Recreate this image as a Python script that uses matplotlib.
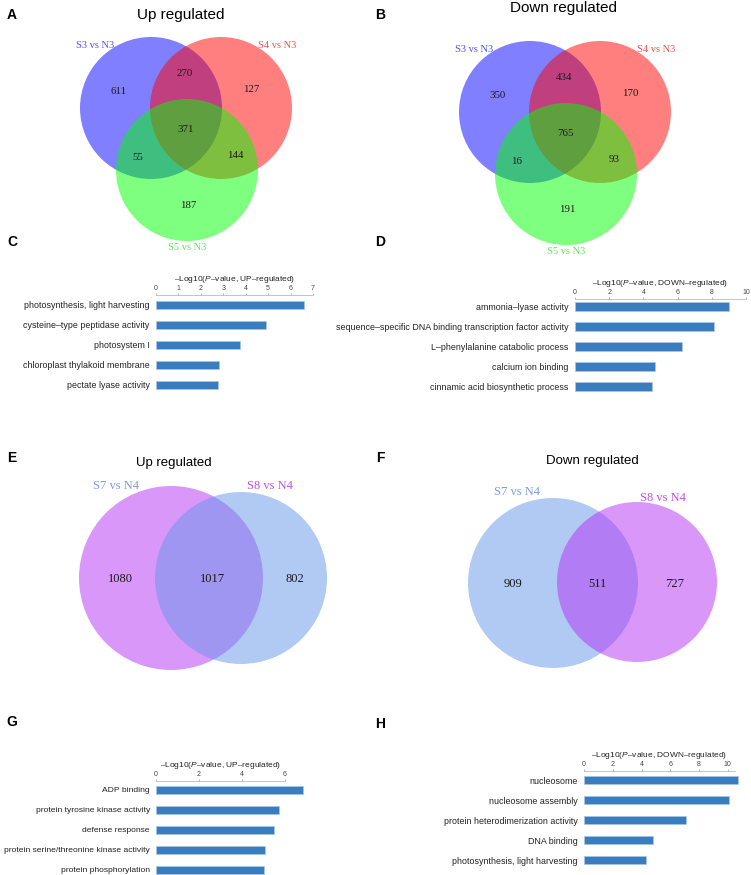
import numpy             as np
import matplotlib
matplotlib.use('Agg')
import matplotlib.pyplot as plt
from matplotlib.patches import Circle

plt.rcParams['font.family']      = ['Liberation Sans', 'DejaVu Sans']
plt.rcParams['mathtext.fontset'] = 'custom'
plt.rcParams['mathtext.it']      = 'Liberation Sans:italic'
plt.rcParams['mathtext.rm']      = 'Liberation Sans'

# ---------------------------------------------------------------- data
# three-set Venns (A, B): regions order
# [only1, 1&2, only2, 1&2&3, 1&3, 2&3, only3]
venn3_sets   = ['S3 vs N3', 'S4 vs N3', 'S5 vs N3']
venn_a_count = [611, 270, 127, 371, 55, 144, 187]
venn_b_count = [350, 434, 170, 765, 16, 93, 191]

# two-set Venns (E, F): [only left, both, only right]
venn_e_sets  = ['S7 vs N4', 'S8 vs N4']
venn_e_count = [1080, 1017, 802]
venn_f_sets  = ['S7 vs N4', 'S8 vs N4']
venn_f_count = [909, 511, 727]

# GO enrichment bars
c_terms  = ['photosynthesis, light harvesting',
            'cysteine\u2013type peptidase activity',
            'photosystem I',
            'chloroplast thylakoid membrane',
            'pectate lyase activity']
c_values = [6.6, 4.9, 3.73, 2.8, 2.75]

d_terms  = ['ammonia\u2013lyase activity',
            'sequence\u2013specific DNA binding transcription factor activity',
            'L\u2013phenylalanine catabolic process',
            'calcium ion binding',
            'cinnamic acid biosynthetic process']
d_values = [9.02, 8.14, 6.23, 4.65, 4.51]

g_terms  = ['ADP binding',
            'protein tyrosine kinase activity',
            'defense response',
            'protein serine/threonine kinase activity',
            'protein phosphorylation']
g_values = [6.86, 5.71, 5.49, 5.05, 5.02]

h_terms  = ['nucleosome',
            'nucleosome assembly',
            'protein heterodimerization activity',
            'DNA binding',
            'photosynthesis, light harvesting']
h_values = [10.74, 10.05, 7.08, 4.8, 4.34]

up_label   = '\u2013Log10($\\it{P}$\u2013value, UP\u2013regulated)'
down_label = '\u2013Log10($\\it{P}$\u2013value, DOWN\u2013regulated)'

# ---------------------------------------------------------------- style
W, H = 751, 875
blue, red, green = '#0000ff', '#ff0000', '#00ff00'
magenta, lblue   = '#b432f5', '#6496eb'
bar_color        = '#3a7dbf'
serif            = ['Liberation Serif', 'DejaVu Serif']

fig = plt.figure(figsize=(W / 100, H / 100), dpi=100)
canvas = fig.add_axes([0, 0, 1, 1])
canvas.set_xlim(0, W)
canvas.set_ylim(H, 0)
canvas.axis('off')


def px_axes(x0, y0, x1, y1):
    return fig.add_axes([x0 / W, 1 - y1 / H, (x1 - x0) / W, (y1 - y0) / H])


def venn3(counts, names, ox, oy):
    circles = [(ox + 0, oy + 0, blue), (ox + 70, oy + 0, red),
               (ox + 36, oy + 62, green)]
    for cx, cy, col in circles:
        canvas.add_patch(Circle((cx, cy), 71, facecolor=col, alpha=0.5,
                                edgecolor='none'))
    offs = [(-32, -16), (34, -35), (100, -18), (35, 21),
            (-13, 49), (84, 48), (37, 97)]
    for n, (dx, dy) in zip(counts, offs):
        canvas.text(ox + dx, oy + dy, str(n), ha='center', va='center',
                    fontsize=7.8, family=serif, color='#1a1a1a')
    lab_offs = [(-56, -63), (126, -63), (36, 139)]
    lab_cols = ['#4f4ff2', '#f25050', '#5ae65a']
    for name, (dx, dy), col in zip(names, lab_offs, lab_cols):
        canvas.text(ox + dx, oy + dy, name, ha='center', va='center',
                    fontsize=7.5, family=serif, color=col)


def venn2(counts, names, left, right, cols, label_pos, num_pos, lab_cols):
    for (cx, cy, r), col in [(left, cols[0]), (right, cols[1])]:
        canvas.add_patch(Circle((cx, cy), r, facecolor=col, alpha=0.5,
                                edgecolor='none'))
    for n, (x, y) in zip(counts, num_pos):
        canvas.text(x, y, str(n), ha='center', va='center',
                    fontsize=9, family=serif, color='#1a1a1a')
    for name, (x, y), col in zip(names, label_pos, lab_cols):
        canvas.text(x, y, name, ha='center', va='center',
                    fontsize=9, family=serif, color=col)


def go_bars(terms, values, label, box, xmax, ticks, top_pad, step, bottom,
            lsize=6.4):
    x0, y0, x1 = box
    y1 = y0 + (bottom + top_pad) * step
    ax = px_axes(x0, y0, x1, y1)
    pos = np.arange(len(terms))
    ax.barh(pos, values, height=0.44, color=bar_color,
            edgecolor='#a9c8e8', linewidth=0.5, clip_on=False)
    ax.set_xlim(0, xmax)
    ax.set_ylim(bottom, -top_pad)
    ax.set_yticks(pos, terms)
    ax.tick_params(axis='y', length=0, pad=4.5, labelsize=lsize,
                   labelcolor='#222222')
    ax.xaxis.tick_top()
    ax.xaxis.set_label_position('top')
    ax.set_xticks(ticks)
    ax.tick_params(axis='x', length=1.5, width=0.5, pad=1, labelsize=5,
                   color='#999999', labelcolor='#444444')
    ax.set_xlabel(label, fontsize=6, labelpad=2.5, color='#222222')
    for side in ['right', 'bottom', 'left']:
        ax.spines[side].set_visible(False)
    ax.spines['top'].set_color('#bbbbbb')
    ax.spines['top'].set_linewidth(0.6)
    ax.patch.set_visible(False)
    return ax


# ---------------------------------------------------------------- A, B
venn3(venn_a_count, venn3_sets, 151, 108)
venn3(venn_b_count, venn3_sets, 530, 112)

# ---------------------------------------------------------------- E, F
venn2(venn_e_count, venn_e_sets, (171, 578, 92), (241, 578, 86),
      [magenta, lblue], [(116, 486), (270, 486)],
      [(120, 579), (212, 579), (295, 579)], ['#7b9be6', '#c050e8'])
venn2(venn_f_count, venn_f_sets, (553, 583, 85), (637, 582, 80),
      [lblue, magenta], [(517, 492), (663, 498)],
      [(513, 584), (597, 584), (675, 584)], ['#7b9be6', '#c050e8'])

# ---------------------------------------------------------------- titles
for x, y, t, s in [(181, 15, 'Up regulated', 11),
                   (563, 8, 'Down regulated', 11),
                   (174, 463, 'Up regulated', 9.5),
                   (592, 461, 'Down regulated', 9.5)]:
    canvas.text(x, y, t, ha='center', va='center', fontsize=s)

for x, y, t in [(12, 15, 'A'), (380, 15, 'B'), (12, 242, 'C'),
                (380, 242, 'D'), (12, 458, 'E'), (380, 458, 'F'),
                (12, 722, 'G'), (380, 724, 'H')]:
    canvas.text(x, y, t, ha='center', va='center', fontsize=10,
                fontweight='bold')

# ---------------------------------------------------------------- C, D, G, H
go_bars(c_terms, c_values, up_label, (156, 295, 313), 7, range(0, 8),
        0.5, 20, 4.5)
go_bars(d_terms, d_values, down_label, (575, 299, 746), 10, range(0, 11, 2),
        0.35, 20.2, 4.5)
go_bars(g_terms, g_values, up_label, (156, 781, 285), 6, range(0, 7, 2),
        0.45, 20, 4.25, lsize=6.1)
go_bars(h_terms, h_values, down_label, (584, 771, 735), 10.5,
        range(0, 11, 2), 0.45, 20, 4.5)

fig.savefig('out.png', dpi=100)
